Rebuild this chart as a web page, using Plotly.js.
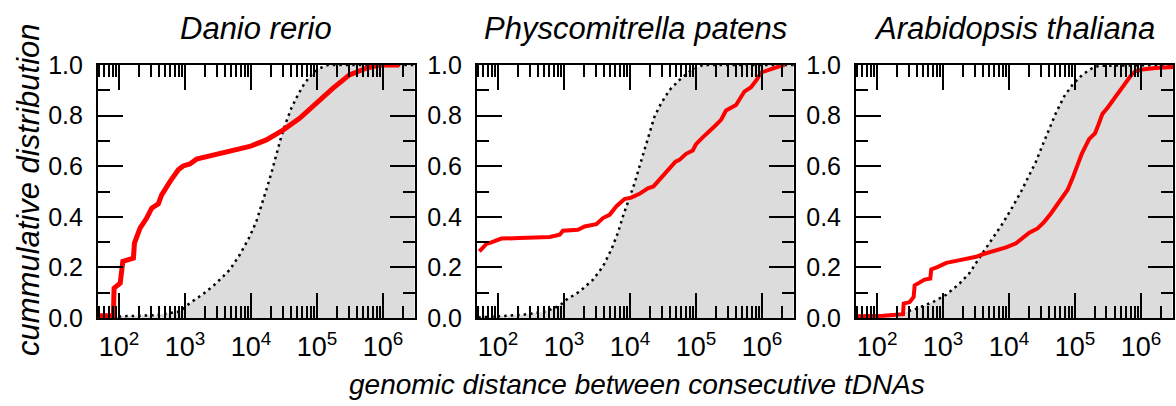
<!DOCTYPE html>
<html>
<head>
<meta charset="utf-8">
<script src="https://cdn.plot.ly/plotly-3.0.1.min.js"></script>
<style>
  html, body { margin: 0; padding: 0; background: #fff; }
  #chart { width: 1176px; height: 406px; }
</style>
</head>
<body>
<div id="chart"></div>
<script>
// Species shown in the three panels
const species = ['Danio rerio', 'Physcomitrella patens', 'Arabidopsis thaliana'];

// Observed cumulative distribution of distances between consecutive tDNAs
const danioDist = [50, 82, 84, 104, 114, 165, 171, 208, 262, 312, 393, 442, 590, 789, 938, 1183, 1493, 2371, 4764, 9550, 17060, 30480, 54450, 97050, 173400, 309700, 553400, 881000, 1766000];
const danioCdf  = [0.009, 0.009, 0.118, 0.138, 0.224, 0.237, 0.296, 0.355, 0.395, 0.434, 0.451, 0.487, 0.539, 0.586, 0.601, 0.609, 0.628, 0.641, 0.658, 0.678, 0.704, 0.743, 0.789, 0.849, 0.908, 0.961, 0.987, 1.0, 1.0];

const physcoDist = [52, 66.5, 79, 112, 213, 605, 857, 961, 1622, 2046, 3076, 3882, 4887, 6166, 8241, 10400, 13900, 18580, 22650, 29580, 39540, 48750, 55980, 70630, 89130, 100000, 126200, 159200, 189700, 239300, 284400, 403600, 539500, 680800, 827900, 963800, 1445000, 1932000, 2200000];
const physcoCdf  = [0.263, 0.293, 0.299, 0.314, 0.316, 0.320, 0.329, 0.345, 0.349, 0.362, 0.371, 0.395, 0.408, 0.441, 0.470, 0.476, 0.491, 0.513, 0.520, 0.553, 0.592, 0.618, 0.625, 0.649, 0.662, 0.687, 0.714, 0.737, 0.757, 0.783, 0.820, 0.842, 0.895, 0.912, 0.941, 0.970, 0.987, 0.997, 1.0];

const arabDist = [50, 123, 247, 253, 312, 358, 371, 442, 525, 640, 662, 836, 1117, 1581, 2239, 3170, 4000, 6368, 9016, 12760, 16110, 20280, 27100, 34200, 43150, 51290, 61090, 77090, 91620, 109100, 127600, 163700, 201800, 226500, 260600, 309700, 414000, 493200, 586100, 722800, 829800, 1047000, 1667000, 3155000];
const arabCdf  = [0.007, 0.009, 0.015, 0.057, 0.063, 0.083, 0.129, 0.143, 0.152, 0.156, 0.192, 0.202, 0.218, 0.226, 0.232, 0.242, 0.252, 0.266, 0.279, 0.295, 0.314, 0.337, 0.354, 0.380, 0.413, 0.440, 0.473, 0.506, 0.552, 0.605, 0.651, 0.707, 0.731, 0.764, 0.807, 0.830, 0.876, 0.905, 0.929, 0.962, 0.976, 0.982, 0.988, 0.992];

// Expected distribution for randomly placed insertions (grey area)
const danioNullDist = [50, 116, 371, 836, 1183, 1884, 2992, 4764, 6745, 9550, 12050, 14320, 17060, 20280, 24150, 28710, 34200, 40740, 51290, 64710, 81660, 109100, 145900, 3000000];
const danioNullCdf  = [0.001, 0.007, 0.011, 0.026, 0.059, 0.095, 0.138, 0.191, 0.250, 0.322, 0.382, 0.441, 0.507, 0.572, 0.651, 0.717, 0.776, 0.829, 0.882, 0.928, 0.961, 0.987, 1.0, 1.0];

const physcoNullDist = [50, 119, 239, 538, 857, 1081, 1722, 2735, 3882, 5188, 6531, 7780, 9594, 11700, 13900, 16560, 19720, 23440, 29580, 39540, 55980, 79430, 126200, 3000000];
const physcoNullCdf  = [0.002, 0.007, 0.013, 0.026, 0.049, 0.072, 0.105, 0.151, 0.204, 0.270, 0.336, 0.401, 0.467, 0.533, 0.599, 0.664, 0.730, 0.796, 0.849, 0.901, 0.941, 0.974, 1.0, 1.0];

const arabNullDist = [50, 120, 220, 393, 701, 1117, 1774, 2518, 3776, 5662, 8017, 11350, 15170, 20280, 25590, 32280, 40740, 51290, 68550, 91620, 129700, 183700, 231700, 3000000];
const arabNullCdf  = [0.001, 0.008, 0.017, 0.037, 0.063, 0.092, 0.136, 0.178, 0.248, 0.314, 0.374, 0.440, 0.499, 0.565, 0.618, 0.684, 0.750, 0.810, 0.876, 0.922, 0.962, 0.988, 0.997, 1.0];

// Axis ticks
const xTickVals = [100, 1000, 10000, 100000, 1000000];
const xTickText = ['10<sup>2</sup>', '10<sup>3</sup>', '10<sup>4</sup>', '10<sup>5</sup>', '10<sup>6</sup>'];
const yTickVals = [0, 0.2, 0.4, 0.6, 0.8, 1.0];
const yTickText = ['0.0', '0.2', '0.4', '0.6', '0.8', '1.0'];
const yMinorVals = [0.1, 0.3, 0.5, 0.7, 0.9];

const xMinorVals = [];
for (let p = 1; p <= 6; p++) {
  for (let m = 2; m <= 9; m++) xMinorVals.push(m * Math.pow(10, p));
}

const observed = [[danioDist, danioCdf], [physcoDist, physcoCdf], [arabDist, arabCdf]];
const expected = [[danioNullDist, danioNullCdf], [physcoNullDist, physcoNullCdf], [arabNullDist, arabNullCdf]];
const redWidth = [5, 4, 4];

const FONT = 'Liberation Sans, Arial, sans-serif';
const xDomains = [[0.0833, 0.3529], [0.4056, 0.6752], [0.7279, 0.9974]];
const yDomain = [0.2167, 0.8399];

const traces = [];
const layout = {
  width: 1176,
  height: 406,
  margin: { l: 0, r: 0, t: 0, b: 0 },
  paper_bgcolor: '#ffffff',
  plot_bgcolor: '#ffffff',
  showlegend: false,
  font: { family: FONT, color: '#000000' },
  annotations: []
};

for (let i = 0; i < 3; i++) {
  const sfx = i === 0 ? '' : String(i + 1);
  // grey area under the expected curve, outlined by a dotted line
  traces.push({
    x: expected[i][0], y: expected[i][1],
    xaxis: 'x' + sfx, yaxis: 'y' + sfx,
    type: 'scatter', mode: 'lines',
    line: { color: '#000000', width: 2.5, dash: '2.5px,4px' },
    fill: 'tozeroy', fillcolor: 'rgb(220,220,220)',
    hoverinfo: 'skip'
  });
  // observed distribution
  traces.push({
    x: observed[i][0], y: observed[i][1],
    xaxis: 'x' + sfx, yaxis: 'y' + sfx,
    type: 'scatter', mode: 'lines',
    line: { color: '#ff0000', width: redWidth[i] },
    hoverinfo: 'skip'
  });

  layout['xaxis' + sfx] = {
    domain: xDomains[i],
    anchor: 'y' + sfx,
    type: 'log',
    range: [1.68, 6.485],
    showgrid: false, zeroline: false,
    showline: true, linecolor: '#000', linewidth: 2, mirror: 'ticks',
    ticks: 'inside', ticklen: 25, tickwidth: 2, tickcolor: '#000',
    tickmode: 'array', tickvals: xTickVals, ticktext: xTickText,
    tickfont: { family: FONT, size: 27, color: '#000' },
    ticklabelstandoff: 4,
    minor: { tickmode: 'array', tickvals: xMinorVals, ticks: 'inside', ticklen: 12, tickwidth: 2, tickcolor: '#000', showgrid: false },
    fixedrange: true
  };
  layout['yaxis' + sfx] = {
    domain: yDomain,
    anchor: 'x' + sfx,
    range: [0, 1],
    showgrid: false, zeroline: false,
    showline: true, linecolor: '#000', linewidth: 2, mirror: 'ticks',
    ticks: 'inside', ticklen: 25, tickwidth: 2, tickcolor: '#000',
    tickmode: 'array', tickvals: yTickVals, ticktext: yTickText,
    tickfont: { family: FONT, size: 25, color: '#000' },
    ticklabelstandoff: 8,
    minor: { tickmode: 'array', tickvals: yMinorVals, ticks: 'inside', ticklen: 12, tickwidth: 2, tickcolor: '#000', showgrid: false },
    fixedrange: true
  };

  layout.annotations.push({
    text: '<i>' + species[i] + '</i>',
    xref: 'paper', yref: 'paper',
    x: (xDomains[i][0] + xDomains[i][1]) / 2, y: 1 - 28 / 406,
    xanchor: 'center', yanchor: 'middle',
    showarrow: false,
    font: { family: FONT, size: 31, color: '#000' }
  });
}

// Shared axis titles
layout.annotations.push({
  text: '<i>genomic distance between consecutive tDNAs</i>',
  xref: 'paper', yref: 'paper',
  x: 637 / 1176, y: 1 - 384 / 406,
  xanchor: 'center', yanchor: 'middle',
  showarrow: false,
  font: { family: FONT, size: 28, color: '#000' }
});
layout.annotations.push({
  text: '<i>cummulative distribution</i>',
  xref: 'paper', yref: 'paper',
  x: 28 / 1176, y: 1 - 190 / 406,
  xanchor: 'center', yanchor: 'middle',
  textangle: -90,
  showarrow: false,
  font: { family: FONT, size: 31, color: '#000' }
});

Plotly.newPlot('chart', traces, layout, { displayModeBar: false, staticPlot: true });
</script>
</body>
</html>
